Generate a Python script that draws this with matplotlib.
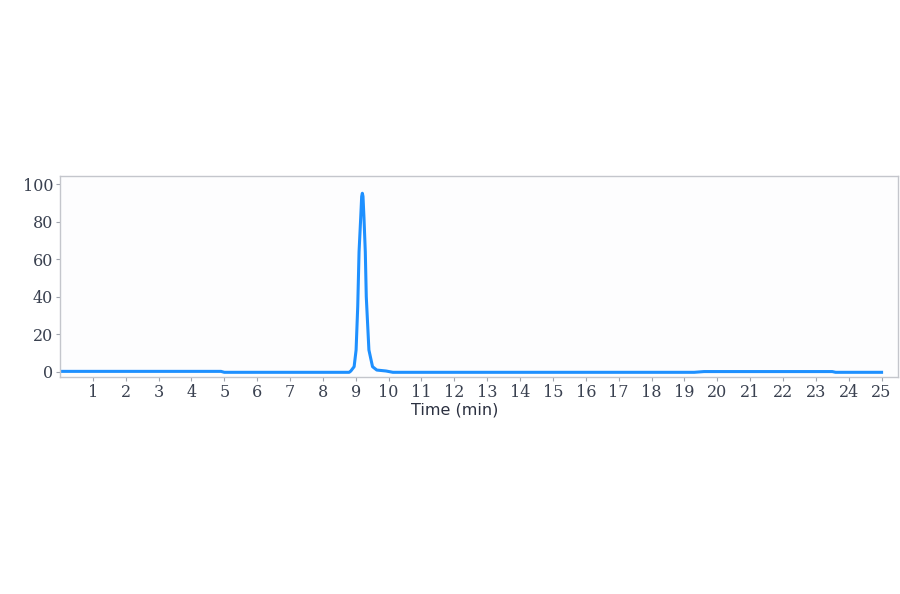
import numpy as np
import matplotlib.pyplot as plt

# baseline segments (time in min, signal)
base_t = [0.0, 4.9, 5.0, 19.3, 19.6, 23.5, 23.6, 25.0]
base_y = [0.3, 0.3, -0.2, -0.2, 0.2, 0.2, -0.2, -0.2]

# main peak
peak_t = [8.80, 8.85, 8.95, 9.01, 9.06, 9.10, 9.15, 9.18, 9.20, 9.22, 9.25,
          9.29, 9.32, 9.40, 9.51, 9.64, 9.92, 10.13]
peak_y = [-0.2, 0.5, 2.8, 11.7, 35.0, 64.0, 82.0, 93.5, 95.2, 93.5, 82.0,
          64.0, 40.0, 11.7, 2.8, 1.0, 0.5, -0.2]

x_ticks = list(range(1, 26))
y_ticks = [0, 20, 40, 60, 80, 100]

# merge baseline and peak into one trace
t = np.array(base_t[:3] + peak_t + base_t[3:])
y = np.array(base_y[:3] + peak_y + base_y[3:])

fig = plt.figure(figsize=(9, 5.94), dpi=100)
fig.patch.set_facecolor('white')
ax = fig.add_axes([60 / 900, 1 - 377 / 594, 838 / 900, 201 / 594])
ax.set_facecolor('#fdfdfe')

ax.plot(t, y, color='#1e90ff', lw=2.2, solid_joinstyle='round')

ax.set_xlim(0, 25.5)
ax.set_ylim(-2.7, 104.4)
ax.set_xticks(x_ticks)
ax.set_yticks(y_ticks)

tick_col = '#3a4150'
for lab in ax.get_xticklabels() + ax.get_yticklabels():
    lab.set_family('DejaVu Serif')
    lab.set_fontsize(11.5)
    lab.set_color(tick_col)
ax.tick_params(axis='both', length=3, width=0.8, color='#a0a4ae', pad=2)

for s in ax.spines.values():
    s.set_color('#c4c6cc')
    s.set_linewidth(1.0)

ax.set_xlabel('Time (min)', fontsize=11.5, color='#2b3040',
              family='DejaVu Sans')
ax.xaxis.set_label_coords(0.471, -0.125)

fig.savefig('out.png', dpi=100)
